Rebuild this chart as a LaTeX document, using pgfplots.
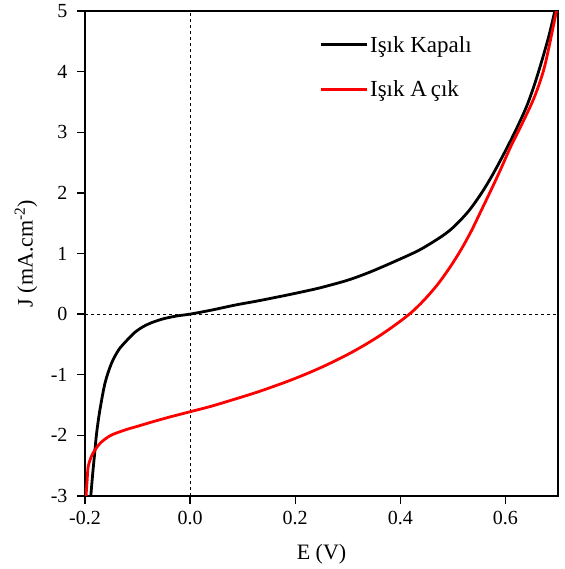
\documentclass[border=0pt]{standalone}
\usepackage{fontspec}
\setmainfont{Liberation Serif}
\usepackage{pgfplots}
\pgfplotsset{compat=1.18}
\begin{document}
\begin{tikzpicture}
\begin{axis}[
  name=ax,
  scale only axis,
  width=473pt, height=485pt,
  xmin=-0.2, xmax=0.7, ymin=-3, ymax=5,
  xtick={-0.2,0,0.2,0.4,0.6},
  ytick={-3,-2,-1,0,1,2,3,4,5},
  /pgf/number format/assume math mode=true,
  xtick pos=left, ytick pos=left,
  tick align=outside,
  major tick length=8pt,
  every tick/.style={black, line width=1.4pt},
  axis line style={line width=1.6pt},
  tick label style={font=\fontsize{20}{22}\selectfont},
  xticklabel style={yshift=-4pt, /pgf/number format/.cd, fixed, fixed zerofill, precision=1},
  yticklabel style={xshift=-6pt},
  xlabel={E (V)},
  ylabel={J (mA.cm\textsuperscript{-2})},
  every axis x label/.style={at={(rel axis cs:0.5,0)}, anchor=center, yshift=-58pt, font=\fontsize{22}{24}\selectfont},
  every axis y label/.style={at={(rel axis cs:0,0.5)}, xshift=-59pt, rotate=90, anchor=center, font=\fontsize{22}{24}\selectfont},
  legend style={at={(0.495,0.957)}, anchor=north west, draw=none, fill=none,
    font=\fontsize{23}{25}\selectfont, row sep=23pt, inner xsep=0pt,
    /tikz/every even column/.append style={column sep=2pt}},
  legend cell align=left,
  legend image code/.code={\draw[#1] (0pt,0pt) -- (46pt,0pt);},
]
\addplot[black, dashed, line width=0.6pt, forget plot] coordinates {(0,-3) (0,5)};
\addplot[black, dashed, line width=0.6pt, forget plot] coordinates {(-0.2,0) (0.7,0)};
\addplot[black, line width=2.8pt, smooth, tension=0.5] coordinates {
(-0.189,-3.0) (-0.185,-2.6) (-0.181,-2.24) (-0.178,-1.97) (-0.172,-1.6)
(-0.162,-1.14) (-0.150,-0.82) (-0.136,-0.59) (-0.120,-0.43) (-0.105,-0.30)
(-0.090,-0.21) (-0.073,-0.14) (-0.050,-0.075) (-0.025,-0.03) (0.000,0.00)
(0.040,0.065) (0.086,0.15) (0.130,0.22) (0.182,0.31) (0.220,0.38)
(0.250,0.44) (0.300,0.56) (0.344,0.70) (0.400,0.91) (0.439,1.07)
(0.480,1.29) (0.503,1.45) (0.530,1.70) (0.554,1.99) (0.575,2.29)
(0.598,2.66) (0.620,3.04) (0.640,3.42) (0.655,3.78) (0.670,4.20)
(0.683,4.60) (0.694,5.0)
};
\addlegendentry{Işık Kapalı}
\addplot[red, line width=2.8pt, smooth, tension=0.5] coordinates {
(-0.198,-3.0) (-0.196,-2.75) (-0.194,-2.52) (-0.188,-2.35) (-0.181,-2.24)
(-0.170,-2.12) (-0.155,-2.02) (-0.143,-1.97) (-0.120,-1.90) (-0.100,-1.85)
(-0.073,-1.78) (-0.040,-1.70) (0.000,-1.61) (0.040,-1.52) (0.086,-1.40)
(0.130,-1.28) (0.182,-1.12) (0.220,-0.99) (0.258,-0.845) (0.300,-0.665)
(0.330,-0.52) (0.360,-0.36) (0.390,-0.18) (0.420,0.02) (0.445,0.23)
(0.471,0.49) (0.495,0.78) (0.516,1.07) (0.535,1.37) (0.554,1.71)
(0.575,2.09) (0.592,2.41) (0.611,2.78) (0.635,3.20) (0.656,3.60)
(0.675,4.10) (0.697,5.0)
};
\addlegendentry{Işık A\,çık}
\end{axis}
\pgfresetboundingbox
\path[use as bounding box] (ax.south west) ++(-85pt,-73pt) rectangle ++(564pt,569pt);
\end{tikzpicture}
\end{document}
